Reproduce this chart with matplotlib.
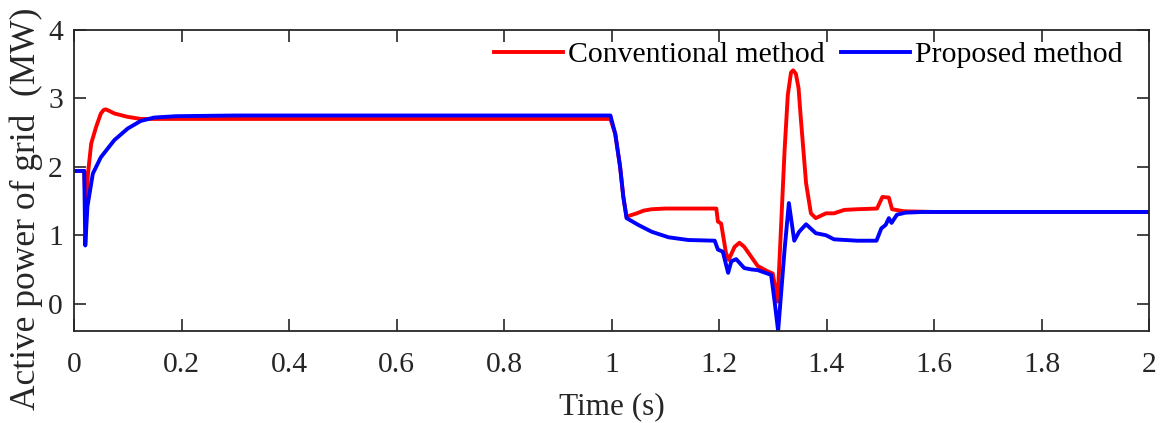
import numpy as np
import matplotlib; matplotlib.use("Agg")
import matplotlib.pyplot as plt

plt.rcParams["font.family"] = ["Liberation Serif", "DejaVu Serif"]

# time (s), active power of grid (MW)
t_conv = [0, 0.019, 0.022, 0.026, 0.032, 0.041, 0.05, 0.055, 0.059, 0.065, 0.075, 0.1,
          0.124, 0.2, 0.998, 1.007, 1.016, 1.022, 1.028, 1.035, 1.047, 1.06, 1.075, 1.1,
          1.124, 1.195, 1.198, 1.204, 1.213, 1.218, 1.229, 1.238, 1.247, 1.272, 1.291,
          1.3, 1.309, 1.322, 1.328, 1.334, 1.338, 1.343, 1.348, 1.352, 1.362, 1.371,
          1.38, 1.399, 1.414, 1.433, 1.457, 1.494, 1.504, 1.516, 1.522, 1.544, 1.6, 2.0]
p_conv = [1.94, 1.94, 1.3, 1.9, 2.34, 2.58, 2.78, 2.83, 2.84, 2.82, 2.78, 2.73,
          2.70, 2.70, 2.70, 2.48, 2.0, 1.56, 1.27, 1.29, 1.32, 1.36, 1.38, 1.39,
          1.39, 1.39, 1.20, 1.17, 0.74, 0.64, 0.83, 0.89, 0.83, 0.55, 0.47,
          0.44, 0.03, 2.24, 3.05, 3.38, 3.41, 3.36, 3.15, 2.73, 1.76, 1.32,
          1.25, 1.32, 1.32, 1.37, 1.38, 1.39, 1.56, 1.55, 1.38, 1.35, 1.34, 1.34]

t_prop = [0, 0.019, 0.021, 0.025, 0.035, 0.05, 0.075, 0.1, 0.124, 0.149, 0.19, 0.3,
          0.998, 1.007, 1.016, 1.022, 1.028, 1.05, 1.075, 1.106, 1.143, 1.192, 1.198,
          1.207, 1.217, 1.223, 1.232, 1.247, 1.26, 1.272, 1.297, 1.303, 1.31, 1.322,
          1.330, 1.340, 1.349, 1.362, 1.38, 1.399, 1.414, 1.457, 1.493, 1.502, 1.51,
          1.516, 1.521, 1.531, 1.547, 1.578, 2.0]
p_prop = [1.94, 1.94, 0.85, 1.42, 1.90, 2.14, 2.39, 2.56, 2.67, 2.72, 2.74, 2.75,
          2.75, 2.48, 2.0, 1.56, 1.25, 1.15, 1.05, 0.97, 0.93, 0.92, 0.79,
          0.76, 0.45, 0.62, 0.65, 0.52, 0.50, 0.49, 0.42, 0.06, -0.40, 0.79,
          1.47, 0.92, 1.05, 1.16, 1.03, 1.00, 0.94, 0.92, 0.92, 1.10, 1.15,
          1.25, 1.18, 1.30, 1.33, 1.34, 1.34]

xticks = [0, 0.2, 0.4, 0.6, 0.8, 1, 1.2, 1.4, 1.6, 1.8, 2]
xticklabels = ["0", "0.2", "0.4", "0.6", "0.8", "1", "1.2", "1.4", "1.6", "1.8", "2"]
yticks = [0, 1, 2, 3, 4]

W, H = 1161, 423
fig = plt.figure(figsize=(W / 100, H / 100), dpi=100)
# axes box in pixels: left 74, right 1149, top 30, bottom 331
ax = fig.add_axes([74 / W, 1 - 331 / H, 1075 / W, 301 / H])

ax.plot(t_conv, p_conv, color="#ff0000", lw=2.8, label="Conventional method")
ax.plot(t_prop, p_prop, color="#0000ff", lw=2.8, label="Proposed method")

ax.set_xlim(0, 2); ax.set_ylim(-0.4, 4)
ax.set_xticks(xticks); ax.set_xticklabels(xticklabels)
ax.set_yticks(yticks)
ax.tick_params(direction="in", length=8.5, width=1.2, top=True, right=True,
               colors="#262626", labelcolor="#262626", labelsize=21.3)
ax.tick_params(axis="x", pad=15)
ax.tick_params(axis="y", pad=8)
for s in ax.spines.values():
    s.set_linewidth(1.3); s.set_color("#262626")
ax.set_xlabel("Time (s)", fontsize=22.5, labelpad=10, color="#262626")
ax.set_ylabel("Active power of grid  (MW)", fontsize=25.5, color="#262626")
ax.yaxis.set_label_coords(-0.0288, 0.405)

ax.legend(loc="center right", ncol=2, frameon=False, fontsize=21.4,
          handlelength=2.32, handletextpad=0.17, columnspacing=0.54,
          borderaxespad=0.0, bbox_to_anchor=(1134 / W, 1 - 55 / H),
          bbox_transform=fig.transFigure)

fig.savefig("out.png", dpi=100)
